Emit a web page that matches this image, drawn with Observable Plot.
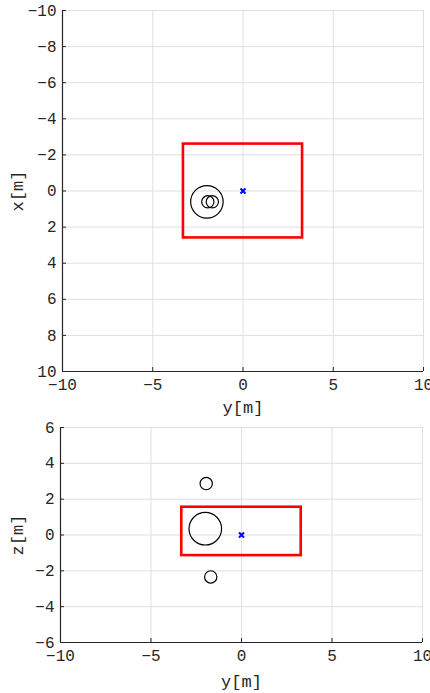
<!DOCTYPE html>
<html><head><meta charset="utf-8">
<script src="https://cdn.jsdelivr.net/npm/d3@7"></script>
<script src="https://cdn.jsdelivr.net/npm/@observablehq/plot@0.6"></script>
<style>
html,body{margin:0;padding:0;background:#fff;}
#c svg{display:block;}
</style>
</head><body><div id="c"></div>
<script>
// Spheres (metres)
const sphereX = [0.6, 0.6, 0.6];
const sphereY = [-2.0, -1.95, -1.7];
const sphereZ = [0.35, 2.87, -2.34];
const sphereR = [0.9, 0.34, 0.34];
// Box (red rectangle) extents
const boxY = [-3.3, 3.3];
const boxX = [-2.6, 2.6];
const boxZ = [-1.15, 1.55];
// Origin marker
const originY = [0];
const originV = [0];
// Ticks
const hTicks = [-10, -5, 0, 5, 10];
const xTicks = [-10, -8, -6, -4, -2, 0, 2, 4, 6, 8, 10];
const zTicks = [-6, -4, -2, 0, 2, 4, 6];
const hLabel = "y[m]";
const xLabel = "x[m]";
const zLabel = "z[m]";

const TXT = "#262626", GRID = "#dfdfdf";
const FONT = "'Liberation Mono', 'Courier New', monospace";

function panel({vVals, vTicks, reverse, vLabel, box, height, mt, mb, ml, mr, hDy, vDx}) {
  const W = 430;
  const pxPerM = (W - ml - mr) / (hTicks[hTicks.length - 1] - hTicks[0]);
  const spheres = sphereY.map((y, i) => ({h: y, v: vVals[i], r: sphereR[i]}));
  const rect = [{x1: boxY[0], x2: boxY[1], y1: box[0], y2: box[1]}];
  const origin = originY.map((h, i) => ({h, v: originV[i]}));
  const vBottom = reverse ? vTicks[vTicks.length - 1] : vTicks[0];
  return Plot.plot({
    width: W, height,
    marginTop: mt, marginBottom: mb, marginLeft: ml, marginRight: mr,
    style: {fontFamily: FONT, fontSize: "16px", color: TXT, background: "#fff", overflow: "visible"},
    x: {domain: [hTicks[0], hTicks[hTicks.length - 1]], ticks: hTicks},
    y: {domain: [vTicks[0], vTicks[vTicks.length - 1]], reverse, ticks: vTicks},
    r: {type: "linear", domain: [0, 1], range: [0, pxPerM]},
    marks: [
      Plot.gridX(hTicks, {stroke: GRID, strokeOpacity: 1}),
      Plot.gridY(vTicks, {stroke: GRID, strokeOpacity: 1}),
      Plot.rect(rect, {x1: "x1", x2: "x2", y1: "y1", y2: "y2", fill: "none", stroke: "#ff0000", strokeWidth: 2.6}),
      Plot.dot(spheres, {x: "h", y: "v", r: "r", stroke: "#000", strokeWidth: 1.2, fill: "none"}),
      Plot.dot(origin, {x: "h", y: "v", symbol: "times", r: 2.4, stroke: "#0000ff", strokeWidth: 2}),
      Plot.ruleX([hTicks[0]], {stroke: TXT, strokeWidth: 1.2}),
      Plot.ruleY([vBottom], {stroke: TXT, strokeWidth: 1.2}),
      Plot.axisX(hTicks, {tickSize: -4, tickPadding: 11, label: null, fontSize: 16, fill: TXT, stroke: TXT}),
      Plot.axisY(vTicks, {tickSize: -4, tickPadding: 10, label: null, fontSize: 16, fill: TXT, stroke: TXT}),
      Plot.text([hLabel], {text: d => d, frameAnchor: "bottom", dy: hDy, textAnchor: "middle", lineAnchor: "middle", fontSize: 17, fill: TXT}),
      Plot.text([vLabel], {text: d => d, frameAnchor: "left", dx: vDx, rotate: -90, textAnchor: "middle", lineAnchor: "middle", fontSize: 17, fill: TXT})
    ]
  });
}

const c = document.getElementById("c");
c.appendChild(panel({vVals: sphereX, vTicks: xTicks, reverse: true, vLabel: xLabel, box: boxX,
  height: 415, mt: 10, mb: 44, ml: 62, mr: 7, hDy: 36, vDx: -45}));
c.appendChild(panel({vVals: sphereZ, vTicks: zTicks, reverse: false, vLabel: zLabel, box: boxZ,
  height: 278, mt: 12, mb: 51, ml: 60, mr: 8, hDy: 39, vDx: -43}));
</script>
</body></html>
